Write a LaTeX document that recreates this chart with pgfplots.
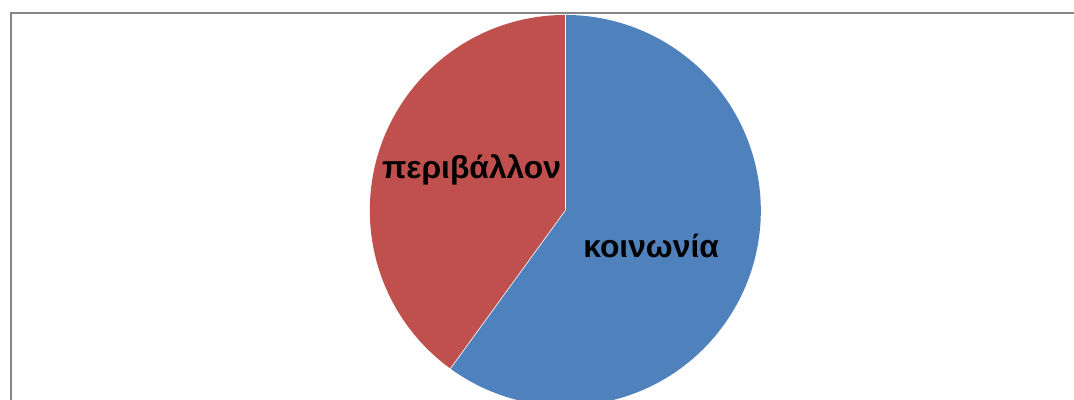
\documentclass[border=0pt]{standalone}
\usepackage{fontspec}
\setmainfont{Liberation Sans}
\usepackage{pgfplots}
\usepackage{pgfplotstable}
\pgfplotsset{compat=1.18}
\definecolor{pieblue}{HTML}{4F81BD}
\definecolor{piered}{HTML}{C0504D}
\definecolor{framegray}{HTML}{868686}
\pgfplotstableread{
slice value
1 60
2 40
}\piedata
\begin{document}
\pgfplotstablegetelem{0}{value}\of\piedata \let\va\pgfplotsretval
\pgfplotstablegetelem{1}{value}\of\piedata \let\vb\pgfplotsretval
\pgfmathsetmacro\redend{90+360*\vb/(\va+\vb)}
\begin{tikzpicture}
\useasboundingbox (0,0) rectangle (1074bp,401bp);
\clip (0,0) rectangle (1074bp,401bp);
\begin{axis}[at={(0,0)}, anchor=south west, scale only axis,
  width=1074bp, height=401bp, xmin=0, xmax=1074, ymin=0, ymax=401,
  hide axis, clip=false]
\draw[framegray, line width=2bp] (axis cs:1100,388) -- (axis cs:8,388) -- (axis cs:8,-20);
\fill[piered] (axis cs:564,190) -- ++(90:196bp) arc[start angle=90, end angle=\redend, radius=196bp] -- cycle;
\fill[pieblue] (axis cs:564,190) -- ++(\redend:196bp) arc[start angle=\redend, end angle=450, radius=196bp] -- cycle;
\draw[white, line width=0.6bp] (axis cs:564,190) -- ++(90:196bp);
\draw[white, line width=0.6bp] (axis cs:564,190) -- ++(\redend:196bp);
\node[font=\bfseries\fontsize{32}{36}\selectfont] at (axis cs:470,231) {περιβάλλον};
\node[font=\bfseries\fontsize{32}{36}\selectfont] at (axis cs:650,154) {κοινωνία};
\end{axis}
\end{tikzpicture}
\end{document}
